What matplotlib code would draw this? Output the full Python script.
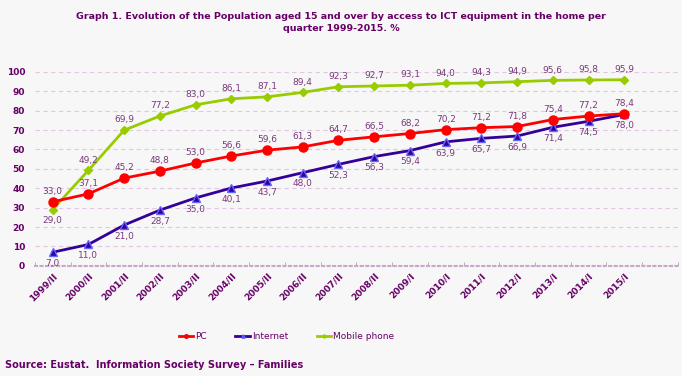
import numpy as np
import matplotlib.pyplot as plt

quarters = ["1999/II", "2000/II", "2001/II", "2002/II", "2003/II", "2004/II",
            "2005/II", "2006/II", "2007/II", "2008/II", "2009/I", "2010/I",
            "2011/I", "2012/I", "2013/I", "2014/I", "2015/I"]
pc = [33.0, 37.1, 45.2, 48.8, 53.0, 56.6, 59.6, 61.3, 64.7, 66.5, 68.2,
      70.2, 71.2, 71.8, 75.4, 77.2, 78.4]
internet = [7.0, 11.0, 21.0, 28.7, 35.0, 40.1, 43.7, 48.0, 52.3, 56.3, 59.4,
            63.9, 65.7, 66.9, 71.4, 74.5, 78.0]
mobile = [29.0, 49.2, 69.9, 77.2, 83.0, 86.1, 87.1, 89.4, 92.3, 92.7, 93.1,
          94.0, 94.3, 94.9, 95.6, 95.8, 95.9]

txt = "#660066"
lbl = "#7a3a7a"
bg = "#f7f7f7"

fig = plt.figure(figsize=(6.82, 3.76), dpi=100, facecolor=bg)
ax = fig.add_axes([0.051, 0.293, 0.943, 0.516], facecolor=bg)

x = np.arange(len(quarters))
ax.plot(x, pc, color="#ff0000", lw=2, marker="o", ms=6.5, label="PC", zorder=4)
ax.plot(x, internet, color="#330099", lw=2, marker="^", ms=6,
        mec="#6666ff", label="Internet", zorder=3)
ax.plot(x, mobile, color="#99cc00", lw=2, marker="D", ms=4.5,
        label="Mobile phone", zorder=2)

# data labels
lab = dict(fontsize=6.5, color=lbl, ha="center", clip_on=False)
for i in x:
    ax.text(i, pc[i] + 3, f"{pc[i]:.1f}".replace(".", ","), va="bottom", **lab)
    if i == 0:
        ax.text(i, mobile[i] - 3.5, f"{mobile[i]:.1f}".replace(".", ","), va="top", **lab)
    else:
        ax.text(i, mobile[i] + 3, f"{mobile[i]:.1f}".replace(".", ","), va="bottom", **lab)
    ax.text(i, internet[i] - 3.5, f"{internet[i]:.1f}".replace(".", ","), va="top", **lab)

ax.set_xlim(-0.5, len(quarters) + 0.5)
ax.set_ylim(0, 100)
ax.set_yticks(range(0, 101, 10))
ax.set_xticks(x)
ax.set_xticklabels(quarters, rotation=45, ha="right", rotation_mode="anchor",
                   fontsize=6.5, fontweight="bold", color=txt)
ax.set_xticks(np.arange(-0.5, len(quarters) + 1), minor=True)
ax.tick_params(axis="x", which="major", length=0, pad=4)
ax.tick_params(axis="x", which="minor", length=3, direction="in", color="#b0a0b0")
ax.tick_params(axis="y", length=0, labelsize=6.5, labelcolor=txt, pad=7)
for t in ax.get_yticklabels():
    t.set_fontweight("bold")

ax.grid(axis="y", color="#e0c8e0", ls=(0, (4, 3)), lw=0.8)
for s in ["top", "right", "left"]:
    ax.spines[s].set_visible(False)
ax.spines["bottom"].set_color("#c8a8c8")
ax.spines["bottom"].set_linestyle(":")
ax.spines["bottom"].set_linewidth(1.5)

leg = fig.legend(loc="center", bbox_to_anchor=(0.42, 0.105), ncol=3, frameon=False,
                 fontsize=6.5, handlelength=1.6, columnspacing=3.2, markerscale=0.4,
                 handletextpad=0.2)
for t in leg.get_texts():
    t.set_color(txt)

fig.text(0.5, 0.955, "Graph 1. Evolution of the Population aged 15 and over by access to ICT equipment in the home per",
         ha="center", va="center", fontsize=6.8, fontweight="bold", color=txt)
fig.text(0.5, 0.925, "quarter 1999-2015. %", ha="center", va="center",
         fontsize=6.8, fontweight="bold", color=txt)
fig.text(0.008, 0.03, "Source: Eustat.  Information Society Survey \u2013 Families",
         ha="left", va="center", fontsize=7, fontweight="bold", color=txt)

fig.savefig("out.png", dpi=100, facecolor=bg)
